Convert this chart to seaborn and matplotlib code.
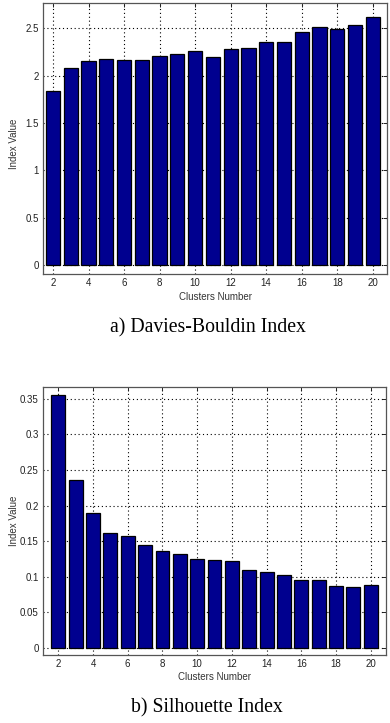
# cluster validity indices vs number of clusters
# a) Davies-Bouldin, b) Silhouette
#
import numpy as np
import pandas as pd
import matplotlib
matplotlib.use('Agg')
import matplotlib.pyplot as plt
import seaborn as sns

# %% data
clusters = list(range(2, 21))
db_index = [1.84, 2.08, 2.15, 2.175, 2.165, 2.165, 2.205, 2.225, 2.26, 2.20,
            2.28, 2.29, 2.36, 2.355, 2.46, 2.51, 2.49, 2.53, 2.62]
sil_index = [0.355, 0.236, 0.189, 0.162, 0.157, 0.145, 0.136, 0.132, 0.125, 0.1235,
             0.1215, 0.109, 0.1065, 0.102, 0.095, 0.095, 0.0865, 0.085, 0.088]
x_ticks = list(range(2, 21, 2))
db_ticks = [0, 0.5, 1, 1.5, 2, 2.5]
db_ticklabels = ['0', '0.5', '1', '1.5', '2', '2.5']
sil_ticks = [0, 0.05, 0.1, 0.15, 0.2, 0.25, 0.3, 0.35]
sil_ticklabels = ['0', '0.05', '0.1', '0.15', '0.2', '0.25', '0.3', '0.35']
captions = ['a) Davies-Bouldin Index', 'b) Silhouette Index']

df = pd.DataFrame({'clusters': clusters, 'db': db_index, 'sil': sil_index})

# %%
sns.set_style('white')
plt.rcParams['font.family'] = ['Liberation Sans', 'DejaVu Sans']

fig = plt.figure(figsize=(3.9, 7.23), dpi=100)
ax1 = fig.add_axes([0.1103, 0.621, 0.882, 0.3748])
ax2 = fig.add_axes([0.1103, 0.0945, 0.8795, 0.3707])

bar_color = '#00008F'


def style_axes(ax, col, yticks, yticklabels, xlim, ylim, ylab_y):
    sns.barplot(data=df, x='clusters', y=col, native_scale=True, width=0.8,
                color=bar_color, saturation=1, edgecolor='black', linewidth=0.9,
                ax=ax, zorder=3)
    ax.set_xlim(*xlim)
    ax.set_ylim(*ylim)
    ax.set_xticks(x_ticks)
    ax.set_xticklabels([str(t) for t in x_ticks])
    ax.set_yticks(yticks)
    ax.set_yticklabels(yticklabels)
    ax.grid(True, color='black', linestyle=(0, (1, 2.5)), linewidth=0.8, zorder=0)
    ax.set_axisbelow(True)
    ax.tick_params(direction='in', length=3, width=0.7, top=True, right=True,
                   labelsize=7, colors='#222222', pad=3)
    for s in ax.spines.values():
        s.set_color('#555555')
        s.set_linewidth(0.9)
    ax.set_xlabel('Clusters Number', fontsize=7, color='#333333')
    ax.set_ylabel('Index Value', fontsize=7, color='#333333')
    h_px = ax.get_position().height * 723
    ax.xaxis.set_label_coords(0.5, -22.5 / h_px)
    ax.xaxis.label.set_va('center')
    ax.yaxis.set_label_coords(-0.085, ylab_y)
    ax.yaxis.label.set_va('center')


style_axes(ax1, 'db', db_ticks, db_ticklabels, (1.44, 20.8), (-0.095, 2.767), 0.48)
style_axes(ax2, 'sil', sil_ticks, sil_ticklabels, (1.12, 20.88), (-0.0094, 0.367), 0.5)

fig.text(0.532, 1 - 328 / 723, captions[0], ha='center', va='center',
         family='Liberation Serif', fontsize=14.2, color='black')
fig.text(0.531, 1 - 708 / 723, captions[1], ha='center', va='center',
         family='Liberation Serif', fontsize=14.2, color='black')

fig.savefig('out.png', dpi=100)
